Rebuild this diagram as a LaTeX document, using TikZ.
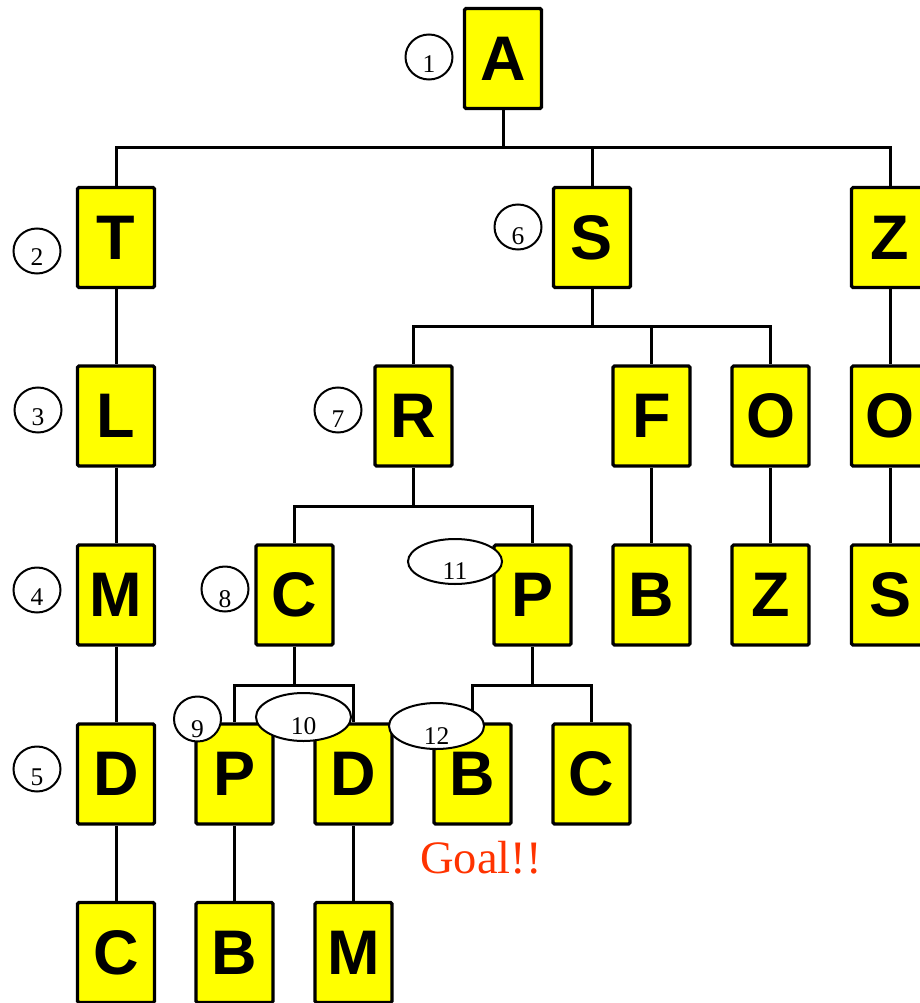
\documentclass[tikz,border=0pt]{standalone}
\usepackage{fontspec}
\setmainfont{Liberation Serif}
\newfontfamily\boxfont{Liberation Sans}
\newfontfamily\numfont{Liberation Serif}
\usetikzlibrary{shapes.geometric}
\definecolor{boxyellow}{RGB}{255,255,0}
\definecolor{goalred}{RGB}{255,51,0}
\begin{document}
\begin{tikzpicture}[x=1pt,y=-1pt,
  state/.style={draw=black, fill=boxyellow, line width=3.2pt, rounded corners=1.5pt,
    minimum width=77pt, minimum height=100pt, inner sep=0pt,
    font=\boxfont\bfseries\fontsize{63}{63}\selectfont},
  edge/.style={line width=3pt},
  order/.style={draw, fill=white, ellipse, line width=2pt, inner sep=0pt,
    minimum width=47pt, minimum height=45pt},
  num/.style={font=\numfont\fontsize{25.5}{25.5}\selectfont, inner sep=0pt, anchor=center}
]
\useasboundingbox (0,0) rectangle (920,1003);

% boxes
\node[state] (A)  at (503,58.5) {A};
\node[state] (T)  at (116,237.5) {T};
\node[state] (S)  at (592,237.5) {S};
\node[state] (Z)  at (890,237.5) {Z};
\node[state] (L)  at (116,416) {L};
\node[state] (R)  at (413.5,416) {R};
\node[state] (F)  at (651.5,416) {F};
\node[state] (O)  at (770.5,416) {O};
\node[state] (Ob) at (890,416) {O};
\node[state] (M)  at (116,595) {M};
\node[state] (C)  at (294.5,595) {C};
\node[state] (P)  at (532.5,595) {P};
\node[state] (B)  at (651.5,595) {B};
\node[state] (Zb) at (770.5,595) {Z};
\node[state] (Sb) at (890,595) {S};
\node[state] (D)  at (116,774) {D};
\node[state] (Pb) at (234.5,774) {P};
\node[state] (Db) at (353.5,774) {D};
\node[state] (Bb) at (472.5,774) {B};
\node[state] (Cb) at (591.5,774) {C};
\node[state] (Cc) at (116,952.5) {C};
\node[state] (Bc) at (234.5,952.5) {B};
\node[state] (Mb) at (353.5,952.5) {M};

% bar coordinates
\coordinate (barA) at (503,148);
\coordinate (barS) at (592,326);
\coordinate (barR) at (413.5,506);
\coordinate (barC) at (294.5,685);
\coordinate (barP) at (532.5,685);

% connectors
\draw[edge] (A.south) -- (barA);
\draw[edge] (barA) -| (T.north);
\draw[edge] (barA) -| (S.north);
\draw[edge] (barA) -| (Z.north);
\draw[edge] (S.south) -- (barS);
\draw[edge] (barS) -| (R.north);
\draw[edge] (barS) -| (F.north);
\draw[edge] (barS) -| (O.north);
\draw[edge] (R.south) -- (barR);
\draw[edge] (barR) -| (C.north);
\draw[edge] (barR) -| (P.north);
\draw[edge] (C.south) -- (barC);
\draw[edge] (barC) -| (Pb.north);
\draw[edge] (barC) -| (Db.north);
\draw[edge] (P.south) -- (barP);
\draw[edge] (barP) -| (Bb.north);
\draw[edge] (barP) -| (Cb.north);
\draw[edge] (T.south) -- (L.north);
\draw[edge] (L.south) -- (M.north);
\draw[edge] (M.south) -- (D.north);
\draw[edge] (D.south) -- (Cc.north);
\draw[edge] (F.south) -- (B.north);
\draw[edge] (O.south) -- (Zb.north);
\draw[edge] (Z.south) -- (Ob.north);
\draw[edge] (Ob.south) -- (Sb.north);
\draw[edge] (Pb.south) -- (Bc.north);
\draw[edge] (Db.south) -- (Mb.north);

% order markers
\node[order] (o1) at (429,57) {};
\node[order] (o2) at (37,251) {};
\node[order] (o3) at (38,410) {};
\node[order] (o4) at (37,590) {};
\node[order] (o5) at (37,769) {};
\node[order] (o6) at (518,227) {};
\node[order] (o7) at (338,410) {};
\node[order] (o8) at (225,589) {};
\node[order] (o9) at (197.5,719) {};
\node[order, minimum width=95pt, minimum height=48pt] (o10) at (303.5,717) {};
\node[order, minimum width=94pt, minimum height=45pt] (o11) at (455,561.5) {};
\node[order, minimum width=95pt, minimum height=46pt] (o12) at (436.5,726) {};

\node[num] (n1)  at ([yshift=-7pt]o1.center) {1};
\node[num] (n2)  at ([yshift=-6pt]o2.center) {2};
\node[num] (n3)  at ([yshift=-7pt]o3.center) {3};
\node[num] (n4)  at ([yshift=-7pt]o4.center) {4};
\node[num] (n5)  at ([yshift=-8pt]o5.center) {5};
\node[num] (n6)  at ([yshift=-9pt]o6.center) {6};
\node[num] (n7)  at ([yshift=-9pt]o7.center) {7};
\node[num] (n8)  at ([yshift=-10pt]o8.center) {8};
\node[num] (n9)  at ([yshift=-10pt]o9.center) {9};
\node[num] (n10) at ([yshift=-9pt]o10.center) {10};
\node[num] (n11) at ([yshift=-10pt]o11.center) {11};
\node[num] (n12) at ([yshift=-10pt]o12.center) {12};

% goal text
\node[anchor=base west, text=goalred, inner sep=0pt, font=\fontsize{46.5}{46.5}\selectfont] (goal) at (420,873) {Goal!!};
\end{tikzpicture}
\end{document}
